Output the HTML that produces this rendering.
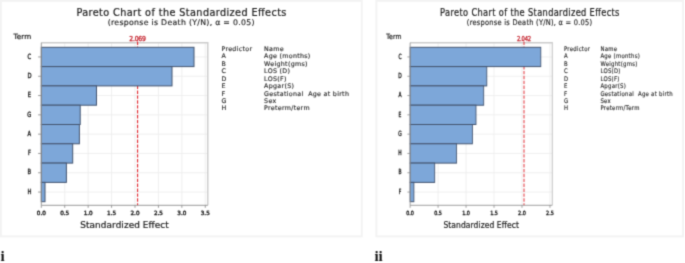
<!DOCTYPE html>
<html lang="en">
<head>
<meta charset="utf-8">
<title>Pareto Chart of the Standardized Effects</title>
<style>
html,body{margin:0;padding:0;background:#fff;}
body{width:685px;height:263px;overflow:hidden;position:relative;font-family:"DejaVu Sans", "Liberation Sans", sans-serif;}
svg{position:absolute;left:0;top:0;display:block;}
svg text{font-family:"DejaVu Sans", "Liberation Sans", sans-serif;fill:#222;stroke:#222;stroke-width:0.22px;}
.panel{fill:#fff;stroke:#f3f3f3;stroke-width:1.9;}
.grid{stroke:#ececec;stroke-width:0.85;fill:none;}
.frame{stroke:#cbcbcb;stroke-width:1.4;fill:none;}
.axis{stroke:#8e8e8e;stroke-width:0.9;fill:none;}
.bar{fill:#7da7d9;stroke:#44546f;stroke-width:1;}
.ref{stroke:#df1c24;stroke-width:1.05;stroke-dasharray:3.4 1.5;fill:none;}
.title{font-size:9.7px;}
svg text.sub{font-size:7.8px;stroke-width:0.16px;}
.termh{font-size:7.2px;}
svg text.term{font-family:"DejaVu Sans Condensed","Liberation Sans",sans-serif;font-size:7.1px;stroke-width:0.36px;}
svg text.tick{font-size:5.7px;stroke-width:0.38px;}
svg text.reft{font-family:"DejaVu Sans Condensed","Liberation Sans",sans-serif;font-size:6.8px;fill:#c4202b;stroke:#c4202b;stroke-width:0.3px;}
.xt{font-size:8.9px;}
svg text.leg{white-space:pre;font-size:6.3px;letter-spacing:0.31px;fill:#2a2a2a;stroke-width:0.15px;}
.fig{font-family:"Liberation Serif","DejaVu Serif",serif;font-weight:bold;font-size:15px;fill:#111;}
svg text.fig{font-family:"Liberation Serif","DejaVu Serif",serif;fill:#111;stroke:none;}
</style>
</head>
<body>
<svg width="685" height="263" viewBox="0 0 685 263">
<defs><filter id="soft" filterUnits="userSpaceOnUse" x="0" y="0" width="685" height="263" color-interpolation-filters="sRGB"><feConvolveMatrix order="3" kernelMatrix="0.0576 0.2400 0.0576 0.2400 1.0000 0.2400 0.0576 0.2400 0.0576" edgeMode="duplicate" preserveAlpha="true"/></filter></defs>
<g filter="url(#soft)">
<rect x="0" y="0" width="685" height="263" fill="#fff"/>
<rect class="panel" x="0.95" y="0.9" width="360.85" height="235.5"/>
<rect class="panel" x="376.4" y="0.9" width="306.7" height="235.5"/>
<g>
<rect x="41.3" y="42.7" width="166.5" height="162.60000000000002" fill="#fff"/>
<line x1="41.3" x2="207.8" y1="56.95" y2="56.95" class="grid"/>
<line x1="41.3" x2="207.8" y1="76.25" y2="76.25" class="grid"/>
<line x1="41.3" x2="207.8" y1="95.55" y2="95.55" class="grid"/>
<line x1="41.3" x2="207.8" y1="114.85" y2="114.85" class="grid"/>
<line x1="41.3" x2="207.8" y1="134.15" y2="134.15" class="grid"/>
<line x1="41.3" x2="207.8" y1="153.45" y2="153.45" class="grid"/>
<line x1="41.3" x2="207.8" y1="172.75" y2="172.75" class="grid"/>
<line x1="41.3" x2="207.8" y1="192.05" y2="192.05" class="grid"/>
<line x1="64.72" x2="64.72" y1="42.7" y2="205.3" class="grid"/>
<line x1="88.15" x2="88.15" y1="42.7" y2="205.3" class="grid"/>
<line x1="111.58" x2="111.58" y1="42.7" y2="205.3" class="grid"/>
<line x1="135.00" x2="135.00" y1="42.7" y2="205.3" class="grid"/>
<line x1="158.43" x2="158.43" y1="42.7" y2="205.3" class="grid"/>
<line x1="181.85" x2="181.85" y1="42.7" y2="205.3" class="grid"/>
<line x1="205.27" x2="205.27" y1="42.7" y2="205.3" class="grid"/>
<path d="M41.3 42.7H207.8V205.3" class="frame"/>
<line x1="137.6" x2="137.6" y1="41.5" y2="205.3" class="ref"/>
<rect x="41.3" y="47.30" width="152.70" height="19.30" class="bar"/>
<rect x="41.3" y="66.60" width="130.70" height="19.30" class="bar"/>
<rect x="41.3" y="85.90" width="55.20" height="19.30" class="bar"/>
<rect x="41.3" y="105.20" width="38.90" height="19.30" class="bar"/>
<rect x="41.3" y="124.50" width="38.10" height="19.30" class="bar"/>
<rect x="41.3" y="143.80" width="31.40" height="19.30" class="bar"/>
<rect x="41.3" y="163.10" width="25.10" height="19.30" class="bar"/>
<rect x="41.3" y="182.40" width="3.70" height="19.30" class="bar"/>
<path d="M41.3 42.7V205.3H207.8" class="axis"/>
<line x1="38.099999999999994" x2="41.3" y1="56.95" y2="56.95" class="axis"/>
<text transform="translate(29.4 58.65) scale(0.82 1)" x="0" y="0" class="term" text-anchor="middle">C</text>
<line x1="38.099999999999994" x2="41.3" y1="76.25" y2="76.25" class="axis"/>
<text transform="translate(29.4 77.95) scale(0.82 1)" x="0" y="0" class="term" text-anchor="middle">D</text>
<line x1="38.099999999999994" x2="41.3" y1="95.55" y2="95.55" class="axis"/>
<text transform="translate(29.4 97.25) scale(0.82 1)" x="0" y="0" class="term" text-anchor="middle">E</text>
<line x1="38.099999999999994" x2="41.3" y1="114.85" y2="114.85" class="axis"/>
<text transform="translate(29.4 116.55) scale(0.82 1)" x="0" y="0" class="term" text-anchor="middle">G</text>
<line x1="38.099999999999994" x2="41.3" y1="134.15" y2="134.15" class="axis"/>
<text transform="translate(29.4 135.85) scale(0.82 1)" x="0" y="0" class="term" text-anchor="middle">A</text>
<line x1="38.099999999999994" x2="41.3" y1="153.45" y2="153.45" class="axis"/>
<text transform="translate(29.4 155.15) scale(0.82 1)" x="0" y="0" class="term" text-anchor="middle">F</text>
<line x1="38.099999999999994" x2="41.3" y1="172.75" y2="172.75" class="axis"/>
<text transform="translate(29.4 174.45) scale(0.82 1)" x="0" y="0" class="term" text-anchor="middle">B</text>
<line x1="38.099999999999994" x2="41.3" y1="192.05" y2="192.05" class="axis"/>
<text transform="translate(29.4 193.75) scale(0.82 1)" x="0" y="0" class="term" text-anchor="middle">H</text>
<line x1="41.30" x2="41.30" y1="205.3" y2="207.8" class="axis"/>
<text x="41.30" y="215.3" class="tick" text-anchor="middle">0.0</text>
<line x1="64.72" x2="64.72" y1="205.3" y2="207.8" class="axis"/>
<text x="64.72" y="215.3" class="tick" text-anchor="middle">0.5</text>
<line x1="88.15" x2="88.15" y1="205.3" y2="207.8" class="axis"/>
<text x="88.15" y="215.3" class="tick" text-anchor="middle">1.0</text>
<line x1="111.58" x2="111.58" y1="205.3" y2="207.8" class="axis"/>
<text x="111.58" y="215.3" class="tick" text-anchor="middle">1.5</text>
<line x1="135.00" x2="135.00" y1="205.3" y2="207.8" class="axis"/>
<text x="135.00" y="215.3" class="tick" text-anchor="middle">2.0</text>
<line x1="158.43" x2="158.43" y1="205.3" y2="207.8" class="axis"/>
<text x="158.43" y="215.3" class="tick" text-anchor="middle">2.5</text>
<line x1="181.85" x2="181.85" y1="205.3" y2="207.8" class="axis"/>
<text x="181.85" y="215.3" class="tick" text-anchor="middle">3.0</text>
<line x1="205.27" x2="205.27" y1="205.3" y2="207.8" class="axis"/>
<text x="205.27" y="215.3" class="tick" text-anchor="middle">3.5</text>
<text x="181.4" y="15.9" class="title" text-anchor="middle" textLength="210" lengthAdjust="spacing">Pareto Chart of the Standardized Effects</text>
<text x="181.1" y="25.1" class="sub" text-anchor="middle" textLength="146.8" lengthAdjust="spacing">(response is Death (Y/N), α = 0.05)</text>
<text x="13.4" y="38.8" class="termh" textLength="17.8" lengthAdjust="spacing">Term</text>
<text x="137.6" y="40.7" class="reft" text-anchor="middle" textLength="16.6" lengthAdjust="spacing">2.069</text>
<text x="124.5" y="227.6" class="xt" text-anchor="middle" textLength="88.4" lengthAdjust="spacing">Standardized Effect</text>
<text x="221.4" y="50.6" class="leg">Predictor</text>
<text x="264.1" y="50.6" class="leg">Name</text>
<text x="221.4" y="58.40" class="leg">A</text>
<text x="264.1" y="58.40" class="leg">Age (months)</text>
<text x="221.4" y="65.83" class="leg">B</text>
<text x="264.1" y="65.83" class="leg">Weight(gms)</text>
<text x="221.4" y="73.26" class="leg">C</text>
<text x="264.1" y="73.26" class="leg">LOS (D)</text>
<text x="221.4" y="80.69" class="leg">D</text>
<text x="264.1" y="80.69" class="leg">LOS(F)</text>
<text x="221.4" y="88.12" class="leg">E</text>
<text x="264.1" y="88.12" class="leg">Apgar(S)</text>
<text x="221.4" y="95.55" class="leg">F</text>
<text x="264.1" y="95.55" class="leg">Gestational  Age at birth</text>
<text x="221.4" y="102.98" class="leg">G</text>
<text x="264.1" y="102.98" class="leg">Sex</text>
<text x="221.4" y="110.41" class="leg">H</text>
<text x="264.1" y="110.41" class="leg">Preterm/term</text>
</g>
<g transform="translate(374.842 0) scale(0.854 1)">
<rect x="41.3" y="42.7" width="166.5" height="162.60000000000002" fill="#fff"/>
<line x1="41.3" x2="207.8" y1="56.95" y2="56.95" class="grid"/>
<line x1="41.3" x2="207.8" y1="76.25" y2="76.25" class="grid"/>
<line x1="41.3" x2="207.8" y1="95.55" y2="95.55" class="grid"/>
<line x1="41.3" x2="207.8" y1="114.85" y2="114.85" class="grid"/>
<line x1="41.3" x2="207.8" y1="134.15" y2="134.15" class="grid"/>
<line x1="41.3" x2="207.8" y1="153.45" y2="153.45" class="grid"/>
<line x1="41.3" x2="207.8" y1="172.75" y2="172.75" class="grid"/>
<line x1="41.3" x2="207.8" y1="192.05" y2="192.05" class="grid"/>
<line x1="74.05" x2="74.05" y1="42.7" y2="205.3" class="grid"/>
<line x1="106.80" x2="106.80" y1="42.7" y2="205.3" class="grid"/>
<line x1="139.55" x2="139.55" y1="42.7" y2="205.3" class="grid"/>
<line x1="172.30" x2="172.30" y1="42.7" y2="205.3" class="grid"/>
<line x1="205.05" x2="205.05" y1="42.7" y2="205.3" class="grid"/>
<path d="M41.3 42.7H207.8V205.3" class="frame"/>
<line x1="174.66" x2="174.66" y1="41.5" y2="205.3" class="ref"/>
<rect x="41.3" y="47.30" width="153.03" height="19.30" class="bar"/>
<rect x="41.3" y="66.60" width="89.80" height="19.30" class="bar"/>
<rect x="41.3" y="85.90" width="86.17" height="19.30" class="bar"/>
<rect x="41.3" y="105.20" width="77.15" height="19.30" class="bar"/>
<rect x="41.3" y="124.50" width="72.94" height="19.30" class="bar"/>
<rect x="41.3" y="143.80" width="54.44" height="19.30" class="bar"/>
<rect x="41.3" y="163.10" width="28.79" height="19.30" class="bar"/>
<rect x="41.3" y="182.40" width="4.44" height="19.30" class="bar"/>
<path d="M41.3 42.7V205.3H207.8" class="axis"/>
<line x1="38.099999999999994" x2="41.3" y1="56.95" y2="56.95" class="axis"/>
<text transform="translate(29.4 58.65) scale(0.82 1)" x="0" y="0" class="term" text-anchor="middle">C</text>
<line x1="38.099999999999994" x2="41.3" y1="76.25" y2="76.25" class="axis"/>
<text transform="translate(29.4 77.95) scale(0.82 1)" x="0" y="0" class="term" text-anchor="middle">D</text>
<line x1="38.099999999999994" x2="41.3" y1="95.55" y2="95.55" class="axis"/>
<text transform="translate(29.4 97.25) scale(0.82 1)" x="0" y="0" class="term" text-anchor="middle">A</text>
<line x1="38.099999999999994" x2="41.3" y1="114.85" y2="114.85" class="axis"/>
<text transform="translate(29.4 116.55) scale(0.82 1)" x="0" y="0" class="term" text-anchor="middle">E</text>
<line x1="38.099999999999994" x2="41.3" y1="134.15" y2="134.15" class="axis"/>
<text transform="translate(29.4 135.85) scale(0.82 1)" x="0" y="0" class="term" text-anchor="middle">G</text>
<line x1="38.099999999999994" x2="41.3" y1="153.45" y2="153.45" class="axis"/>
<text transform="translate(29.4 155.15) scale(0.82 1)" x="0" y="0" class="term" text-anchor="middle">H</text>
<line x1="38.099999999999994" x2="41.3" y1="172.75" y2="172.75" class="axis"/>
<text transform="translate(29.4 174.45) scale(0.82 1)" x="0" y="0" class="term" text-anchor="middle">B</text>
<line x1="38.099999999999994" x2="41.3" y1="192.05" y2="192.05" class="axis"/>
<text transform="translate(29.4 193.75) scale(0.82 1)" x="0" y="0" class="term" text-anchor="middle">F</text>
<line x1="41.30" x2="41.30" y1="205.3" y2="207.8" class="axis"/>
<text x="41.30" y="215.3" class="tick" text-anchor="middle">0.0</text>
<line x1="74.05" x2="74.05" y1="205.3" y2="207.8" class="axis"/>
<text x="74.05" y="215.3" class="tick" text-anchor="middle">0.5</text>
<line x1="106.80" x2="106.80" y1="205.3" y2="207.8" class="axis"/>
<text x="106.80" y="215.3" class="tick" text-anchor="middle">1.0</text>
<line x1="139.55" x2="139.55" y1="205.3" y2="207.8" class="axis"/>
<text x="139.55" y="215.3" class="tick" text-anchor="middle">1.5</text>
<line x1="172.30" x2="172.30" y1="205.3" y2="207.8" class="axis"/>
<text x="172.30" y="215.3" class="tick" text-anchor="middle">2.0</text>
<line x1="205.05" x2="205.05" y1="205.3" y2="207.8" class="axis"/>
<text x="205.05" y="215.3" class="tick" text-anchor="middle">2.5</text>
<text x="181.4" y="15.9" class="title" text-anchor="middle" textLength="210" lengthAdjust="spacing">Pareto Chart of the Standardized Effects</text>
<text x="181.1" y="25.1" class="sub" text-anchor="middle" textLength="146.8" lengthAdjust="spacing">(response is Death (Y/N), α = 0.05)</text>
<text x="13.4" y="38.8" class="termh" textLength="17.8" lengthAdjust="spacing">Term</text>
<text x="174.66" y="40.7" class="reft" text-anchor="middle" textLength="16.6" lengthAdjust="spacing">2.042</text>
<text x="124.5" y="227.6" class="xt" text-anchor="middle" textLength="88.4" lengthAdjust="spacing">Standardized Effect</text>
<text x="221.4" y="50.6" class="leg">Predictor</text>
<text x="264.1" y="50.6" class="leg">Name</text>
<text x="221.4" y="58.40" class="leg">A</text>
<text x="264.1" y="58.40" class="leg">Age (months)</text>
<text x="221.4" y="65.83" class="leg">B</text>
<text x="264.1" y="65.83" class="leg">Weight(gms)</text>
<text x="221.4" y="73.26" class="leg">C</text>
<text x="264.1" y="73.26" class="leg">LOS(D)</text>
<text x="221.4" y="80.69" class="leg">D</text>
<text x="264.1" y="80.69" class="leg">LOS(F)</text>
<text x="221.4" y="88.12" class="leg">E</text>
<text x="264.1" y="88.12" class="leg">Apgar(S)</text>
<text x="221.4" y="95.55" class="leg">F</text>
<text x="264.1" y="95.55" class="leg">Gestational  Age at birth</text>
<text x="221.4" y="102.98" class="leg">G</text>
<text x="264.1" y="102.98" class="leg">Sex</text>
<text x="221.4" y="110.41" class="leg">H</text>
<text x="264.1" y="110.41" class="leg">Preterm/Term</text>
</g>
<text class="fig" x="0.4" y="260.9">i</text>
<text class="fig" x="374.4" y="260.9">ii</text>
</g>
</svg>
</body>
</html>
